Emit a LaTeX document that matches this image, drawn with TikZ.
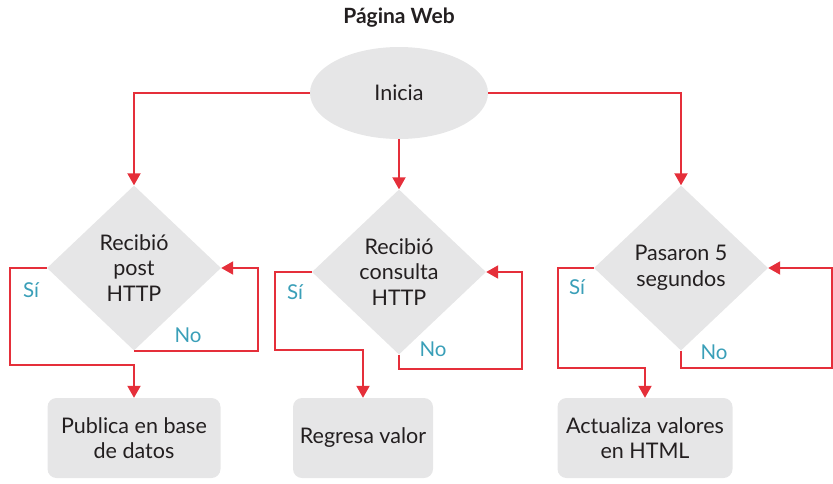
\documentclass[tikz,border=0pt]{standalone}
\usepackage{fontspec}
\setmainfont{Lato}
\usetikzlibrary{shapes.geometric,arrows.meta,calc}
\definecolor{lred}{HTML}{E52F3A}
\definecolor{lgray}{HTML}{E6E6E7}
\definecolor{lteal}{HTML}{3A9FB8}
\definecolor{ltext}{HTML}{231F20}
\begin{document}
\begin{tikzpicture}[x=1pt,y=-1pt,
 txt/.style={text=ltext,font=\fontsize{21.5}{25.5}\selectfont,align=center},
 link/.style={draw=lred,line width=2pt},
 arr/.style={link,-{Triangle[width=13pt,length=12pt]}},
 dec/.style={txt,diamond,fill=lgray,inner sep=0pt,minimum width=174pt,minimum height=165pt},
 act/.style={txt,rectangle,rounded corners=9pt,fill=lgray,minimum height=80pt},
 lab/.style={text=lteal,font=\fontsize{20.5}{25}\selectfont}]
\useasboundingbox (0,0) rectangle (833,483);
\node[txt,font=\bfseries\fontsize{21}{25}\selectfont] (title) at (399,18) {Página Web};
\node[txt,ellipse,fill=lgray,minimum width=178pt,minimum height=92pt,inner sep=0pt] (start) at (399,93) {Inicia};
\node[dec] (d1) at (134,268) {Recibió\\post\\HTTP};
\node[dec] (d2) at (399,272) {Recibió\\consulta\\HTTP};
\node[dec] (d3) at (681,268) {Pasaron 5\\segundos};
\node[act,minimum width=173pt] (b1) at (134,438) {Publica en base\\de datos};
\node[act,minimum width=140pt] (b2) at (363,438) {Regresa valor};
\node[act,minimum width=175pt] (b3) at (645,438) {Actualiza valores\\en HTML};
% from start
\draw[arr] (start.west) -| (d1.north);
\draw[arr] (start.south) -- (d2.north);
\draw[arr] (start.east) -| (d3.north);
% yes branches
\draw[arr] (d1.west) -- ++(-37,0) |- ($(b1.north)+(0,-33)$) -- (b1.north);
\draw[arr] (d2.west) -- ++(-37,0) |- ($(b2.north)+(0,-48)$) -- (b2.north);
\draw[arr] (d3.west) -- ++(-36,0) |- ($(b3.north)+(0,-30)$) -- (b3.north);
% no branches
\draw[arr] (d1.south) -- ++(124,0) |- (d1.east);
\draw[arr] (d2.south) -- ++(0,14) -- ++(123,0) |- (d2.east);
\coordinate (e3) at (832,368);
\draw[arr] (d3.south) |- (e3) |- (d3.east);
% labels
\node[lab] (s1) at (31,290) {Sí};
\node[lab] (s2) at (295,292) {Sí};
\node[lab] (s3) at (577,287) {Sí};
\node[lab] (n1) at (188,335) {No};
\node[lab] (n2) at (433,349) {No};
\node[lab] (n3) at (714,352) {No};
\end{tikzpicture}
\end{document}
